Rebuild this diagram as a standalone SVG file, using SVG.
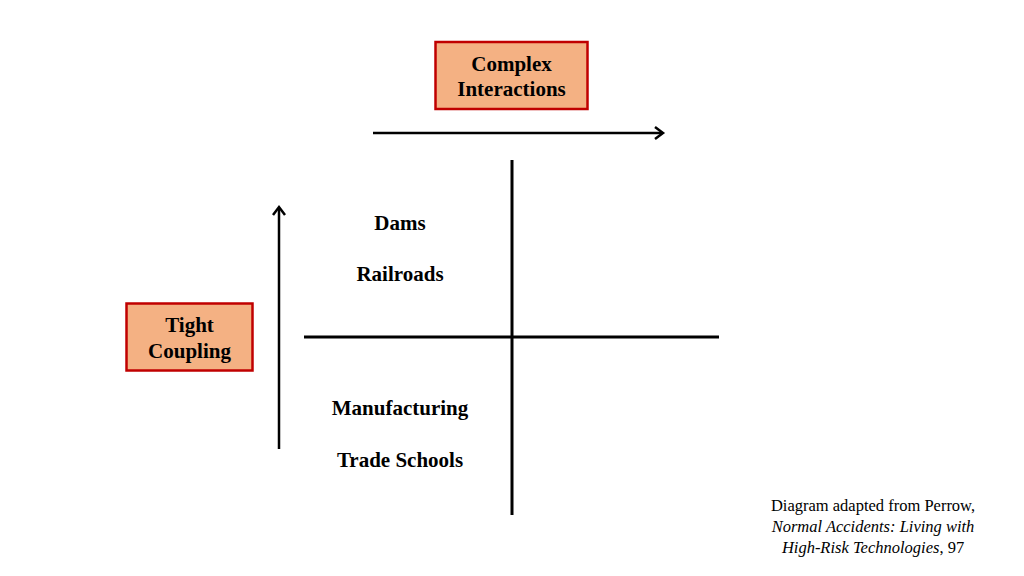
<svg xmlns="http://www.w3.org/2000/svg" width="1024" height="576" viewBox="0 0 1024 576">
<style>
.box{fill:#F4B183;stroke:#C00000;stroke-width:2.5}
.lbl{font-family:"Liberation Serif","Times New Roman",serif;font-weight:bold;font-size:21px;fill:#000;text-anchor:middle}
.ln{stroke:#000;stroke-width:3;fill:none}
.ar{stroke:#000;stroke-width:2.5;fill:none}
.note{font-family:"Liberation Serif","Times New Roman",serif;font-size:16.5px;fill:#000;text-anchor:middle}
</style>
<rect width="1024" height="576" fill="#fff"/>
<g id="connectors">
<path class="ar" d="M373,133 H662"/>
<path class="ar" d="M655,127 L663,133 L655,139"/>
<path class="ar" d="M279,449 V208"/>
<path class="ar" d="M273,215 L279,207 L285,215"/>
<line class="ln" x1="512" y1="160" x2="512" y2="515"/>
<line class="ln" x1="304" y1="337" x2="719" y2="337"/>
</g>
<g id="complex">
<rect class="box" x="435.5" y="42" width="152" height="67"/>
<text class="lbl" x="511.5" y="71">Complex</text>
<text class="lbl" x="511.5" y="96">Interactions</text>
</g>
<g id="tight">
<rect class="box" x="126.5" y="303.5" width="126" height="67"/>
<text class="lbl" x="189.5" y="332">Tight</text>
<text class="lbl" x="189.5" y="358">Coupling</text>
</g>
<g id="dams"><text class="lbl" x="400" y="230">Dams</text></g>
<g id="railroads"><text class="lbl" x="400" y="281">Railroads</text></g>
<g id="manufacturing"><text class="lbl" x="400" y="415">Manufacturing</text></g>
<g id="trade"><text class="lbl" x="400" y="467">Trade Schools</text></g>
<g id="note">
<text class="note" x="873" y="511">Diagram adapted from Perrow,</text>
<text class="note" x="873" y="532" font-style="italic">Normal Accidents: Living with</text>
<text class="note" x="873" y="553"><tspan font-style="italic">High-Risk Technologies</tspan>, 97</text>
</g>
</svg>
